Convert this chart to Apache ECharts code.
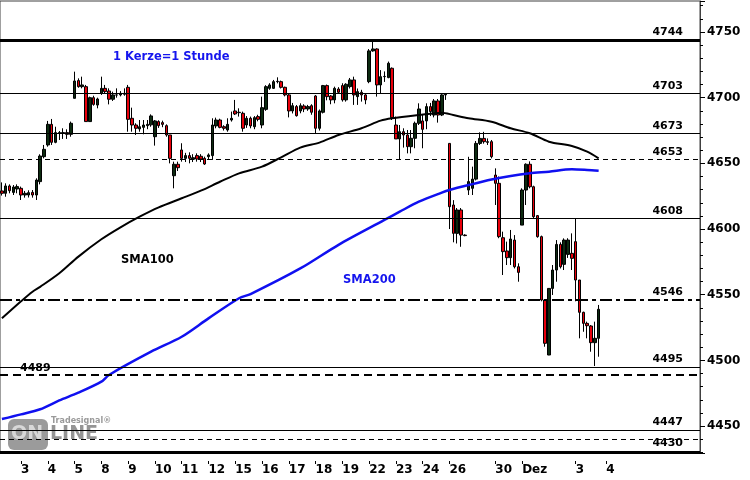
<!DOCTYPE html>
<html><head><meta charset="utf-8">
<script src="https://cdn.jsdelivr.net/npm/echarts@6/dist/echarts.min.js"></script>
<style>html,body{margin:0;padding:0;background:#fff}#c{width:750px;height:480px}</style>
</head><body><div id="c"></div>
<script>
// Hourly candles [open, high, low, close] per trading day
const d1102 = [[4629,4635.5,4625.5,4627.2],[4627.2,4634.8,4624.6,4632.8],[4632.8,4634,4627.2,4629.2],[4627.9,4633.5,4625.9,4632],[4630.5,4634,4627.2,4632.3]];
const d1103 = [[4631,4632.3,4622.1,4625.9],[4625.9,4629,4623.9,4627.2],[4625.9,4629.5,4624,4627.7],[4627.9,4629.7,4623.9,4625.9],[4625.9,4638.6,4622.1,4637.3],[4636.1,4656.9,4634,4655.6],[4655.1,4664,4653.8,4660.7]];
const d1104 = [[4664,4682.3,4662.7,4679.7],[4679.7,4683.8,4664,4666],[4666,4677.9,4665.3,4673.4],[4673,4674.6,4667.8,4673.4],[4672.9,4676.7,4668.6,4673.4],[4673.4,4675.9,4668.6,4672.1],[4672.1,4681.8,4670.3,4680.5]];
const d1105 = [[4699.5,4719.8,4699.5,4712.7],[4713,4714.7,4707.6,4708.4],[4708.4,4716,4707.1,4709.7],[4708.4,4709.7,4681.8,4681.8],[4681.8,4700.8,4681.8,4700],[4700,4701.5,4693.9,4694.9],[4694.4,4700,4691.9,4699]];
const d1108 = [[4703.3,4716,4702.1,4707.1],[4707.1,4709.7,4703.3,4704.6],[4705.1,4707.1,4694.9,4698.8],[4698.8,4704.6,4697.5,4702.1],[4702,4707.1,4700,4702.1],[4702.1,4705,4701,4703.3],[4702.6,4707.1,4701.5,4703.3]];
const d1109 = [[4707.9,4709.7,4674.1,4683.5],[4684.3,4692.4,4674.1,4679.2],[4679.2,4680.5,4671.6,4676.7],[4676.2,4683,4674.1,4677.9],[4677.4,4683,4672.1,4679.2],[4678.7,4683,4676,4679.7],[4679.3,4687.3,4677.9,4686.1]];
const d1110 = [[4670.3,4683,4663.5,4682.3],[4681.8,4682.8,4677,4678.7],[4681,4682.5,4677.5,4679.7],[4678.7,4679.7,4670.3,4671.6],[4671.6,4671.6,4650,4653.8],[4640.6,4651.3,4631,4649.3],[4649.3,4651.3,4644.2,4646.7]];
const d1111 = [[4660.2,4665.3,4651.3,4653.8],[4653.8,4658,4651,4655.9],[4655.9,4658.4,4650,4653.8],[4653.1,4657,4651,4654.3],[4655.9,4657.6,4651.3,4653.3],[4655.4,4657,4651,4653.3],[4653.8,4655.1,4648.8,4649.5]];
const d1112 = [[4655.1,4657.6,4652.6,4656.4],[4655.9,4684.3,4652.6,4679.2],[4678.5,4684.8,4676.7,4683],[4683,4684,4676.7,4677.4],[4677.9,4679,4675,4676.7],[4675.4,4684.3,4674.1,4679.7],[4683,4689.4,4681.8,4684.3]];
const d1115 = [[4689.9,4698.3,4686.8,4687.6],[4688.6,4691.9,4685.6,4688.9],[4688.1,4689.4,4674.1,4676.7],[4679.2,4686,4677,4684.3],[4684.3,4685.6,4676.7,4678.5],[4677.9,4686,4676,4684.8],[4685.6,4687,4682,4683.5]];
const d1116 = [[4679.2,4700.8,4676.7,4692.4],[4691.1,4709.5,4690,4708.4],[4707.1,4711,4706,4709.7],[4707.1,4713.5,4706.6,4712.2],[4712.2,4715.5,4710.9,4712.5],[4712.2,4713,4707,4707.9],[4707.9,4708.4,4701,4702.1]];
const d1117 = [[4702.1,4703.3,4685,4689.9],[4689.9,4696,4688,4693.9],[4693.2,4694.4,4685.6,4686.3],[4689.9,4695.7,4688.1,4693.9],[4693.7,4695,4689,4691.4],[4691.4,4694.5,4690,4693.2],[4693.9,4695,4687,4688.9]];
const d1118 = [[4701.3,4702,4672.9,4676.7],[4676.7,4691,4675,4689.9],[4688.9,4709.7,4688,4709.2],[4709.2,4710,4698,4700.8],[4701.3,4702,4695,4698.3],[4698.3,4708.4,4695.7,4707.1],[4706.6,4708,4703,4704.1]];
const d1119 = [[4709.2,4711,4697,4698.3],[4698.3,4711,4697,4710.2],[4708.4,4715,4707,4713.5],[4713.5,4716,4694.5,4702.1],[4700.8,4707,4694.5,4704.6],[4704.1,4706,4697,4702.1],[4702.1,4703.3,4695,4698.3]];
const d1122 = [[4712.2,4737,4711,4735.6],[4735.6,4744,4735,4737.1],[4737.1,4737.6,4700.8,4709.7],[4709.7,4721,4703.3,4716],[4716,4720,4712,4716.2],[4715.3,4727.5,4714.8,4726.2],[4722.4,4723,4683,4684.8]];
const d1123 = [[4679.2,4685.6,4668.6,4668.6],[4668.6,4679.2,4653.3,4674.1],[4674.1,4676.7,4662,4671.6],[4671.6,4675.4,4657.6,4662.7],[4662.7,4675.4,4657.6,4669.1],[4669.1,4681.8,4661.5,4680.5],[4680.5,4695.7,4679.2,4691.4]];
const d1124 = [[4682.3,4686.8,4661.5,4675.9],[4682.3,4695.7,4676,4693.2],[4693.2,4696,4686,4689.4],[4686.8,4699,4685,4697.5],[4697.5,4699,4681,4686.8],[4686.8,4703.3,4686,4702.1],[4702.1,4703.3,4698.3,4702.6]];
const d1126 = [[4665.2,4665.2,4600,4617],[4618.3,4622,4589.9,4596.7],[4596.7,4616,4589,4614.5],[4614.5,4616,4586.5,4595.4],[4595.4,4596,4594.5,4595]];
const d1129 = [[4629.7,4655,4625.9,4636.1],[4631,4647.5,4625.9,4638],[4638,4667,4637,4665.2],[4665.2,4673.6,4664,4669],[4669,4674,4665,4666.5],[4666.5,4669,4664,4666],[4666.5,4667.8,4653.8,4655.1]];
const d1130 = [[4641.1,4646.2,4618.3,4634.8],[4634.8,4640,4593,4594.2],[4593.4,4598,4565,4582.8],[4583.3,4590.4,4572.6,4578.2],[4578.2,4599.3,4572.6,4592.4],[4591.6,4595.4,4570,4571.3],[4571.3,4573.9,4559.9,4567]];
const d1201 = [[4603,4631,4603,4629.7],[4629.7,4650,4618.3,4649.3],[4649.3,4651.5,4631,4632.2],[4632.2,4633,4608,4609.4],[4610.2,4610.7,4593.4,4594.2],[4594.2,4595,4545,4546],[4546,4546,4510.4,4513]];
const d1202 = [[4504.1,4555,4504,4554.8],[4554.8,4572.6,4549.8,4568.8],[4568.8,4591.6,4559.9,4588.3],[4588.3,4589.9,4570,4571.3],[4573.1,4592.9,4568.8,4591.6],[4580.7,4593,4578,4591.6],[4581.5,4596.7,4568.8,4577.7]];
const d1203 = [[4590.4,4608.1,4545,4561.2],[4561.2,4561.2,4516.8,4536.6],[4536.6,4537.1,4521.8,4528.2],[4528.2,4529.5,4516.8,4526.4],[4526.2,4526.9,4506.6,4513.5],[4513.5,4529.5,4495.7,4516.8],[4516.8,4542.2,4502.8,4538.9]];

// Moving averages: [candle index, value]
const sma100 = [[0,4532],[5,4545],[8,4552.3],[10,4556],[15,4566.3],[20,4579],[26,4592.2],[31,4601.3],[36,4609.4],[41,4616.5],[47,4623.4],[52,4629.2],[57,4636],[62,4642.4],[68,4647.5],[73,4654.6],[78,4662],[83,4665.8],[88,4671.6],[94,4676.7],[99,4682.5],[102,4684.3],[109,4686.8],[115,4688.6],[118,4686.8],[122,4684.3],[128,4681.7],[133,4676.7],[138,4672.9],[143,4666.5],[149,4663.2],[153,4658.9],[156,4653.8]];
const sma200 = [[0,4455.4],[5,4458.9],[10,4462.8],[15,4469.5],[20,4475.4],[26,4483.8],[28,4488.9],[39,4506.6],[47,4518],[54,4532],[62,4547.3],[65,4550.5],[78,4570],[88,4588],[100,4606.9],[104,4613.2],[109,4620.8],[115,4627.7],[117,4629.7],[122,4633.5],[128,4637.7],[133,4640.4],[138,4642.4],[143,4643.7],[149,4645.5],[153,4645],[156,4644.4]];

// Day tick labels and the candle index where each day starts
const dayLabels = ['3','4','5','8','9','10','11','12','15','16','17','18','19','22','23','24','26','30','Dez','3','4'];
const dayStart  = [5,12,19,26,33,40,47,54,61,68,75,82,89,96,103,110,117,129,136,150,158];
const slotCount = 183;

// Horizontal levels
const levelValues = [4744, 4703, 4673, 4653, 4608, 4546, 4495, 4489, 4447, 4440, 4430];
const levelLabels = ['4744','4703','4673','4653','4608','4546','4495','4489','4447','','4430'];

const candles = [].concat(d1102,d1103,d1104,d1105,d1108,d1109,d1110,d1111,d1112,d1115,d1116,d1117,d1118,d1119,d1122,d1123,d1124,d1126,d1129,d1130,d1201,d1202,d1203);
const cats = Array.from({length: slotCount}, (_, i) => String(i));
const labelAt = {};
dayStart.forEach((s, k) => { labelAt[s] = dayLabels[k]; });

const FONT = 'DejaVu Sans';
const lvlStyles = {
  4744: {width: 3, type: 'solid'},
  4703: {width: 1, type: 'solid'},
  4673: {width: 1, type: 'solid'},
  4653: {width: 1, type: [5, 4]},
  4608: {width: 1, type: 'solid'},
  4546: {width: 2, type: [12, 4, 4, 4]},
  4495: {width: 1, type: 'solid'},
  4489: {width: 2, type: [8, 5]},
  4447: {width: 1, type: 'solid'},
  4440: {width: 1, type: [5, 4]},
  4430: {width: 3, type: 'solid'}
};
const markData = levelValues.map((v, k) => ({
  yAxis: v,
  lineStyle: Object.assign({color: '#000'}, lvlStyles[v]),
  label: {
    show: levelLabels[k] !== '',
    formatter: levelLabels[k],
    position: v === 4489 ? 'insideStartTop' : 'insideEndTop',
    distance: v === 4489 ? [20, 1] : [17, v === 4430 ? 4 : 2],
    color: '#000', fontFamily: FONT, fontWeight: 'bold', fontSize: 11
  }
}));

const chart = echarts.init(document.getElementById('c'));
chart.setOption({
  animation: false,
  backgroundColor: '#fff',
  grid: {left: 0, right: 50, top: 1, bottom: 27, show: true, borderColor: '#404040', borderWidth: 1, containLabel: false},
  xAxis: {
    type: 'category', data: cats, boundaryGap: true, offset: 8,
    axisLine: {show: false},
    axisTick: {show: true, alignWithLabel: true, length: 3, lineStyle: {color: '#000'},
      interval: (i) => labelAt[i] !== undefined},
    axisLabel: {interval: (i) => labelAt[i] !== undefined, formatter: (v, i) => labelAt[i] || '',
      align: 'left', margin: 3, color: '#000', fontFamily: FONT, fontWeight: 'bold', fontSize: 12},
    splitLine: {show: false}
  },
  yAxis: {
    type: 'value', position: 'right', min: 4429.5, max: 4773.6, scale: true,
    axisLine: {show: true, lineStyle: {color: '#404040'}},
    axisTick: {show: true, length: 5, lineStyle: {color: '#000'}},
    minorTick: {show: true, splitNumber: 5, length: 3, lineStyle: {color: '#000'}},
    axisLabel: {margin: 7, color: '#000', fontFamily: FONT, fontWeight: 'bold', fontSize: 12,
      showMinLabel: false, showMaxLabel: false, formatter: (v) => String(Math.round(v))},
    splitLine: {show: false}
  },
  series: [
    {type: 'line', data: [], z: 1, silent: true,
     markLine: {silent: true, symbol: 'none', animation: false, data: markData}},
    {type: 'candlestick', z: 3, barWidth: 3,
     data: candles.map(r => [r[0], r[3], r[2], r[1]]),
     itemStyle: {color: '#0c2a10', color0: '#e8000b', borderColor: '#000', borderColor0: '#000', borderWidth: 1}},
    {type: 'line', z: 4, data: sma100, showSymbol: false, smooth: 0.3,
     lineStyle: {color: '#000', width: 2}},
    {type: 'line', z: 4, data: sma200, showSymbol: false, smooth: 0.3,
     lineStyle: {color: '#1010f0', width: 2.5}}
  ],
  graphic: [
    {type: 'text', left: 113, top: 51, style: {text: '1 Kerze=1 Stunde', fill: '#1515ee', font: 'bold 11.5px "DejaVu Sans"'}},
    {type: 'text', left: 121, top: 254, style: {text: 'SMA100', fill: '#000', font: 'bold 11.5px "DejaVu Sans"'}},
    {type: 'text', left: 343, top: 274, style: {text: 'SMA200', fill: '#1515ee', font: 'bold 11.5px "DejaVu Sans"'}},
    {type: 'rect', shape: {x: 8, y: 419, width: 40, height: 31, r: 6}, style: {fill: '#8a8a8a', opacity: 0.85}, z: 0},
    {type: 'text', left: 11, top: 425, style: {text: 'ON', fill: '#d8d8d8', font: 'bold 19px "DejaVu Sans"'}, z: 1},
    {type: 'text', left: 50, top: 425, style: {text: 'LINE', fill: '#8a8a8a', font: 'bold 19px "DejaVu Sans"', opacity: 0.9}, z: 1},
    {type: 'text', left: 51, top: 417, style: {text: 'Tradesignal®', fill: '#9a9a9a', font: 'bold 8px "DejaVu Sans"'}, z: 1}
  ]
});
</script></body></html>
